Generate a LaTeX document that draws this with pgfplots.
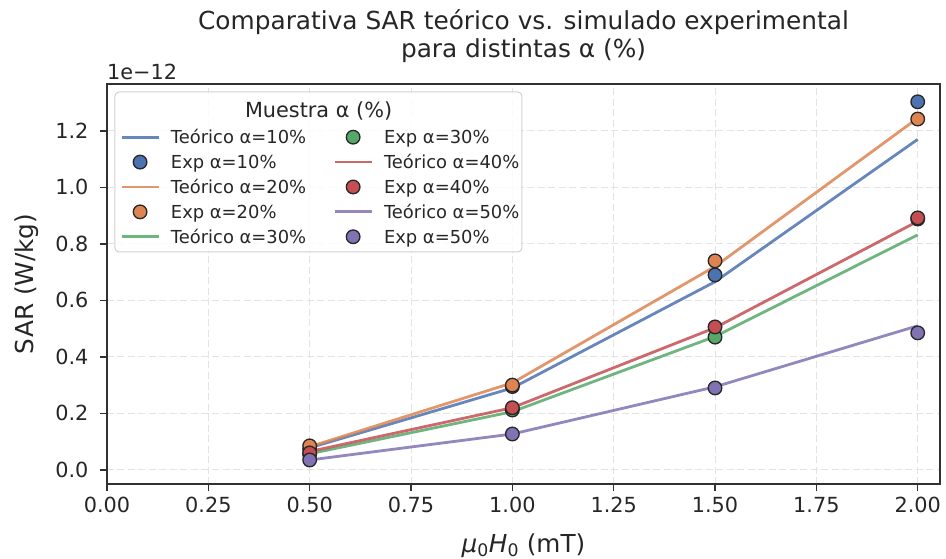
\documentclass[border=0pt]{standalone}
\usepackage{fontspec}
\setmainfont{DejaVu Sans}
\usepackage{pgfplots}
\pgfplotsset{compat=1.18}
\definecolor{cb}{HTML}{4C72B0}
\definecolor{co}{HTML}{DD8452}
\definecolor{cg}{HTML}{55A868}
\definecolor{cr}{HTML}{C44E52}
\definecolor{cp}{HTML}{8172B3}
\definecolor{txt}{HTML}{262626}
\pgfplotsset{
  thline/.style={line width=2.8bp, opacity=0.85,
    legend image code/.code={\draw[##1] (0bp,0bp) -- (37bp,0bp);}},
  expm/.style={only marks, mark=*, mark size=6.8bp,
    mark options={fill=#1, draw=black!85, line width=1.3bp},
    legend image code/.code={\draw[mark repeat=2,mark phase=2,##1] plot coordinates {(0bp,0bp)(18.5bp,0bp)(37bp,0bp)};}},
}
\begin{document}
\begin{tikzpicture}[font=\fontsize{17.9bp}{21bp}\selectfont, text=txt]
\begin{axis}[
  scale only axis, width=833bp, height=400bp,
  xmin=0, xmax=2.055, ymin=-0.05, ymax=1.366,
  xtick={0,0.25,0.5,0.75,1,1.25,1.5,1.75,2},
  ytick={0,0.2,0.4,0.6,0.8,1.0,1.2},
  /pgf/number format/assume math mode=true,
  xticklabel style={/pgf/number format/.cd, fixed, fixed zerofill, precision=2, /tikz/.cd, yshift=-3bp},
  yticklabel style={/pgf/number format/.cd, fixed, fixed zerofill, precision=1, /tikz/.cd, xshift=-8bp},
  tick label style={font=\fontsize{20.8bp}{24bp}\selectfont, text=txt},
  tick align=outside, tick pos=left, major tick length=7bp,
  every tick/.style={txt!95, line width=1.4bp},
  axis line style={txt!95, line width=1.6bp},
  grid=major, major grid style={dash pattern=on 7bp off 3.5bp, black!11, line width=1bp},
  title={Comparativa SAR teórico vs. simulado experimental\\para distintas α (\%)},
  title style={align=center, font=\fontsize{24.8bp}{28bp}\selectfont, text=txt,
    at={(axis description cs:0.5,1.052)}, anchor=base, inner sep=0pt},
  xlabel={\textit{μ}\textsubscript{0}\textit{H}\textsubscript{0} (mT)},
  ylabel={SAR (W/kg)},
  xlabel style={at={(axis description cs:0.5,-0.17)}, anchor=base, inner sep=0pt},
  ylabel style={at={(axis description cs:-0.0888,0.5)}, anchor=base, inner sep=0pt},
  label style={font=\fontsize{24.7bp}{28bp}\selectfont, text=txt},
  legend columns=5, transpose legend, legend cell align=left,
  legend style={at={(axis description cs:0.0156,0.8888)}, anchor=north west,
    draw=none, fill=none, inner sep=0pt, row sep=7.9bp, column sep=11bp,
    font=\fontsize{17.9bp}{21bp}\selectfont, text=txt,
    nodes={inner sep=0pt, text height=15bp, text depth=2bp},
    /tikz/every even column/.append style={column sep=27bp}},
  clip=false,
]
\addplot[cb, thline] coordinates {(0.5,0.078)(1,0.290)(1.5,0.666)(2,1.170)};
\addlegendentry{Teórico α=10\%}
\addplot[expm=cb] coordinates {(0.5,0.072)(1,0.295)(1.5,0.690)(2,1.303)};
\addlegendentry{Exp α=10\%}
\addplot[co, thline] coordinates {(0.5,0.082)(1,0.308)(1.5,0.720)(2,1.245)};
\addlegendentry{Teórico α=20\%}
\addplot[expm=co] coordinates {(0.5,0.085)(1,0.300)(1.5,0.740)(2,1.242)};
\addlegendentry{Exp α=20\%}
\addplot[cg, thline] coordinates {(0.5,0.057)(1,0.206)(1.5,0.472)(2,0.832)};
\addlegendentry{Teórico α=30\%}
\addplot[expm=cg] coordinates {(0.5,0.055)(1,0.212)(1.5,0.470)(2,0.888)};
\addlegendentry{Exp α=30\%}
\addplot[cr, thline] coordinates {(0.5,0.065)(1,0.220)(1.5,0.503)(2,0.880)};
\addlegendentry{Teórico α=40\%}
\addplot[expm=cr] coordinates {(0.5,0.060)(1,0.220)(1.5,0.506)(2,0.892)};
\addlegendentry{Exp α=40\%}
\addplot[cp, thline] coordinates {(0.5,0.035)(1,0.127)(1.5,0.294)(2,0.510)};
\addlegendentry{Teórico α=50\%}
\addplot[expm=cp] coordinates {(0.5,0.035)(1,0.127)(1.5,0.290)(2,0.485)};
\addlegendentry{Exp α=50\%}
\draw[black!18, fill=white, fill opacity=0.85, rounded corners=4bp, line width=1bp]
  (axis description cs:0.0096,0.58) rectangle (axis description cs:0.498,0.98);
\node[font=\fontsize{20.8bp}{24bp}\selectfont, text=txt] at (axis description cs:0.254,0.933) {Muestra α (\%)};
\node[anchor=base west, inner sep=0pt, font=\fontsize{20.8bp}{24bp}\selectfont, text=txt] at (axis description cs:0,1.01) {1e−12};
\end{axis}
\pgfresetboundingbox
\path[use as bounding box] ([xshift=-107bp,yshift=-75bp]current axis.south west) rectangle ([xshift=6bp,yshift=84bp]current axis.north east);
\end{tikzpicture}
\end{document}
